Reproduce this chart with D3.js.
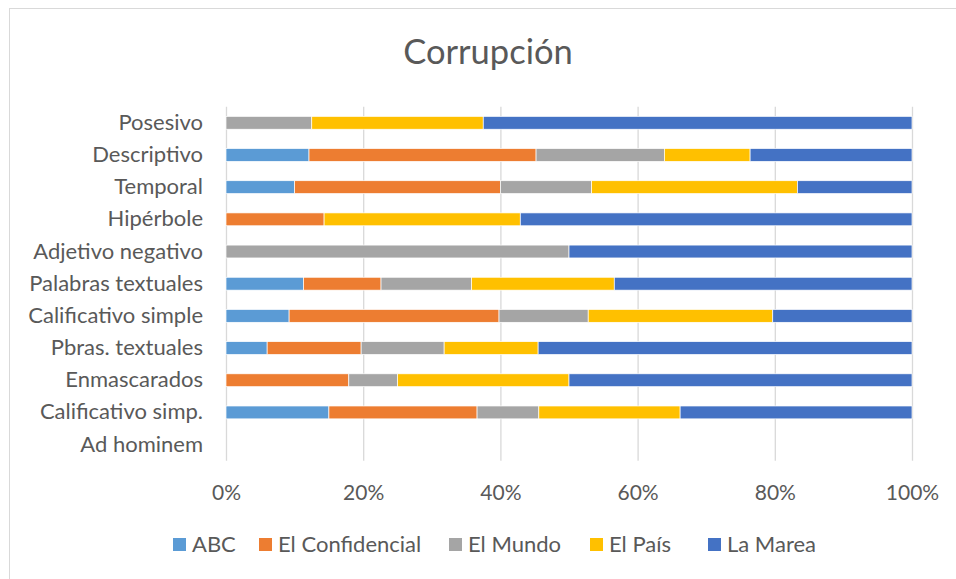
<!DOCTYPE html>
<html>
<head>
<meta charset="utf-8">
<script src="https://cdn.jsdelivr.net/npm/d3@7"></script>
<style>
  body { margin: 0; background: #fff; }
  text { font-family: Lato, "Open Sans", sans-serif; fill: #595959; }
</style>
</head>
<body>
<svg class="chart" width="956" height="579"></svg>
<script>
// categories top to bottom, values in %
var categories = ["Posesivo", "Descriptivo", "Temporal", "Hipérbole", "Adjetivo negativo",
  "Palabras textuales", "Calificativo simple", "Pbras. textuales", "Enmascarados",
  "Calificativo simp.", "Ad hominem"];
var series = ["ABC", "El Confidencial", "El Mundo", "El País", "La Marea"];
var colors = ["#5B9BD5", "#ED7D31", "#A5A5A5", "#FFC000", "#4472C4"];

var abc        = [0, 12.1, 10, 0, 0, 11.3, 9.2, 6.0, 0, 15.0, 0];
var confidencial = [0, 33.1, 30, 14.3, 0, 11.3, 30.6, 13.7, 17.9, 21.6, 0];
var mundo      = [12.5, 18.7, 13.3, 0, 50, 13.2, 13.0, 12.1, 7.1, 9.0, 0];
var pais       = [25, 12.5, 30, 28.6, 0, 20.8, 26.9, 13.7, 25, 20.6, 0];
var marea      = [62.5, 23.6, 16.7, 57.1, 50, 43.4, 20.3, 54.5, 50, 33.8, 0];
var ticks = [0, 20, 40, 60, 80, 100];

var data = categories.map(function(c, i) {
  return {cat: c, "ABC": abc[i], "El Confidencial": confidencial[i], "El Mundo": mundo[i],
          "El País": pais[i], "La Marea": marea[i]};
});

var chart = d3.select(".chart"),
    margin = {top: 106.7, left: 226},
    width = 686,
    height = 354;

chart.append("rect")
    .attr("x", 9.5).attr("y", 8.5)
    .attr("width", 960).attr("height", 600)
    .attr("fill", "#fff").attr("stroke", "#d9d9d9");

chart.append("text")
    .attr("x", 488).attr("y", 64)
    .attr("text-anchor", "middle")
    .style("font-size", "34.5px")
    .text("Corrupción");

var x = d3.scaleLinear().domain([0, 100]).range([0, width]),
    y = d3.scaleBand().domain(categories).range([0, height]).paddingInner(0.6).paddingOuter(0.3),
    color = d3.scaleOrdinal().domain(series).range(colors);

var g = chart.append("g")
    .attr("transform", "translate(" + margin.left + "," + margin.top + ")");

// gridlines + percent labels
var xAxis = g.append("g")
    .attr("transform", "translate(0," + height + ")")
    .call(d3.axisBottom(x).tickValues(ticks).tickSize(-height).tickPadding(24)
      .tickFormat(function(d) { return d + "%"; }));
xAxis.select(".domain").remove();
xAxis.selectAll("line").attr("stroke", "#d9d9d9").attr("stroke-width", 1.3);
xAxis.selectAll("text").style("font-size", "21px").attr("fill", "#595959");

var yAxis = g.append("g")
    .call(d3.axisLeft(y).tickSize(0).tickPadding(23));
yAxis.select(".domain").remove();
yAxis.selectAll("text").style("font-size", "22px").attr("fill", "#595959");

var stacked = d3.stack().keys(series)(data);

g.selectAll(".serie")
  .data(stacked)
  .enter().append("g")
    .attr("class", "serie")
    .attr("fill", function(d) { return color(d.key); })
  .selectAll("rect")
  .data(function(d) { return d; })
  .enter().append("rect")
    .attr("x", function(d) { return x(d[0]); })
    .attr("y", function(d) { return y(d.data.cat); })
    .attr("width", function(d) { return x(d[1]) - x(d[0]); })
    .attr("height", y.bandwidth())
    .attr("stroke", "#fff")
    .attr("stroke-width", function(d) { return d[1] > d[0] ? 0.7 : 0; });

// legend
var legendX = [173, 259, 449, 590, 708];
var legend = chart.append("g").selectAll("g")
  .data(series)
  .enter().append("g")
    .attr("transform", function(d, i) { return "translate(" + legendX[i] + ",538)"; });
legend.append("rect")
    .attr("width", 13).attr("height", 13)
    .attr("fill", function(d) { return color(d); });
legend.append("text")
    .attr("x", 19).attr("y", 13.5)
    .style("font-size", "22px")
    .text(function(d) { return d; });
</script>
</body>
</html>
